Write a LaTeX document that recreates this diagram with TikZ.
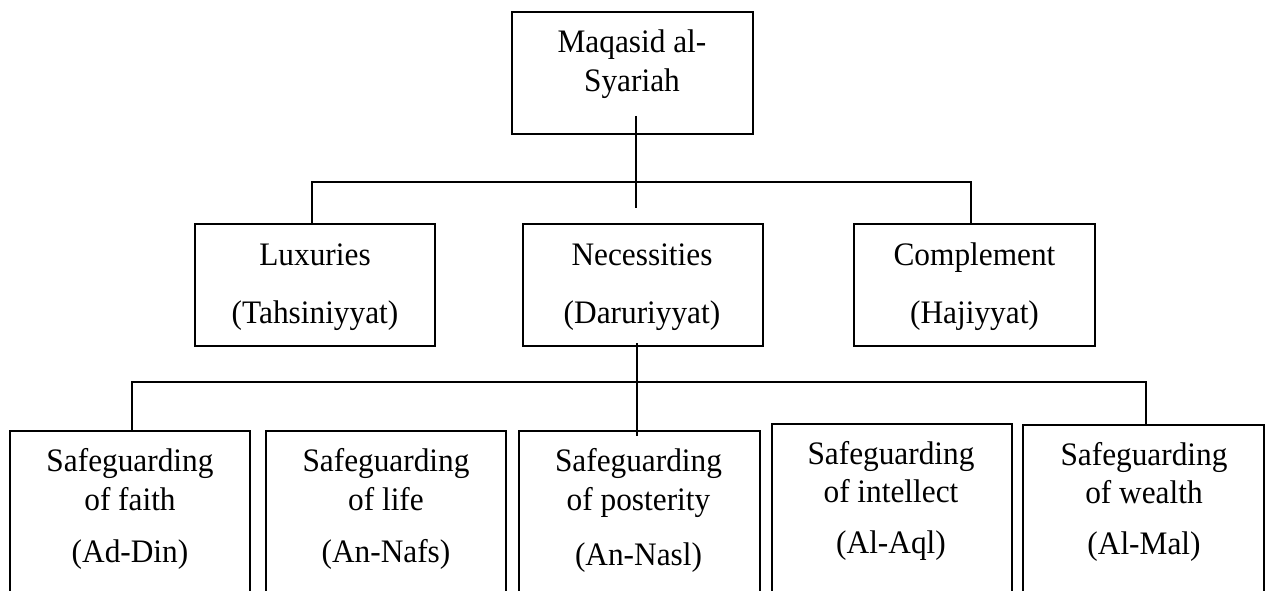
\documentclass[tikz,border=0pt]{standalone}
\usepackage{fontspec}
\setmainfont[FakeStretch=0.955]{Liberation Serif}
\begin{document}
\begin{tikzpicture}[x=1pt,y=-1pt,
  box/.style={draw, line width=1.1pt, inner sep=0pt, outer sep=0pt, minimum width=240pt, minimum height=122pt},
  lowbox/.style={box, minimum height=180pt},
  txt/.style={anchor=base, inner sep=0pt, outer sep=0pt, font=\fontsize{32.8}{38}\selectfont},
  conn/.style={line width=1.1pt}]
\useasboundingbox (0,0) rectangle (1266,591);
\clip (0,0) rectangle (1266,591);
% boxes
\node[box, minimum width=241pt] (top) at (632.5,73) {};
\node[box] (lux) at (315,285) {};
\node[box] (nec) at (643,285) {};
\node[box, minimum width=241pt] (comp) at (974.5,285) {};
\node[lowbox] (b1) at (130,521) {};
\node[lowbox] (b2) at (386,521) {};
\node[lowbox, minimum width=241pt] (b3) at (639.5,521) {};
\node[lowbox] (b4) at (892,514) {};
\node[lowbox, minimum width=241pt] (b5) at (1143.5,515) {};
% texts
\node[txt] (t1) at (632,53) {Maqasid al-};
\node[txt] (t2) at (632,92) {Syariah};
\node[txt] (l1) at (315,265) {Luxuries};
\node[txt] (l2) at (315,323) {(Tahsiniyyat)};
\node[txt] (n1) at (642,265) {Necessities};
\node[txt] (n2) at (642,323) {(Daruriyyat)};
\node[txt] (c1) at (974.5,265) {Complement};
\node[txt] (c2) at (974.5,323) {(Hajiyyat)};
\node[txt] (a1) at (130,471) {Safeguarding};
\node[txt] (a2) at (130,510) {of faith};
\node[txt] (a3) at (130,562) {(Ad-Din)};
\node[txt] (d1) at (386,471) {Safeguarding};
\node[txt] (d2) at (386,510) {of life};
\node[txt] (d3) at (386,562) {(An-Nafs)};
\node[txt] (e1) at (638.5,471) {Safeguarding};
\node[txt] (e2) at (638.5,510) {of posterity};
\node[txt] (e3) at (638.5,565) {(An-Nasl)};
\node[txt] (f1) at (891,464) {Safeguarding};
\node[txt] (f2) at (891,502) {of intellect};
\node[txt] (f3) at (891,553) {(Al-Aql)};
\node[txt] (g1) at (1144,465) {Safeguarding};
\node[txt] (g2) at (1144,503) {of wealth};
\node[txt] (g3) at (1144,554) {(Al-Mal)};
% connectors
\coordinate (topstem) at (636,116);
\coordinate (topend) at (636,208);
\draw[conn] (topstem) -- (topend);
\draw[conn] ([xshift=-3pt]lux.north) -- ++(0,-42) -| ([xshift=-3.5pt]comp.north);
\coordinate (necstem) at (637,343);
\coordinate (b3in) at (637,436);
\draw[conn] (necstem) -- (b3in);
\draw[conn] ([xshift=2pt]b1.north) -- ++(0,-49) -| ([xshift=2.5pt]b5.north);
\end{tikzpicture}
\end{document}
